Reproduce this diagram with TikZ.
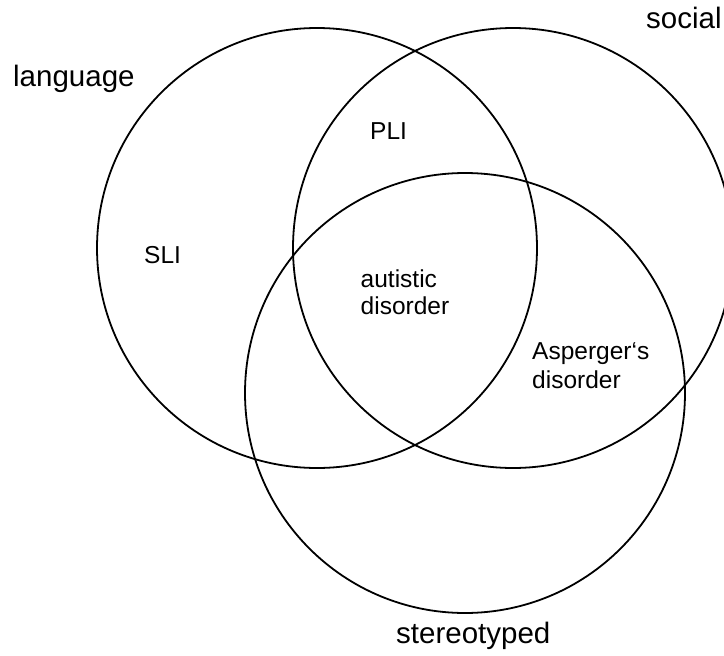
\documentclass[tikz,border=0pt]{standalone}
\usepackage{fontspec}
\setmainfont{Liberation Sans}
\begin{document}
\begin{tikzpicture}[x=1pt,y=-1pt,
  setcircle/.style={circle,draw=black,line width=1.8pt,minimum size=440pt,inner sep=0pt},
  outerlbl/.style={inner sep=0pt,anchor=base west,font=\fontsize{29.5}{34}\selectfont},
  innerlbl/.style={inner sep=0pt,anchor=base west,font=\fontsize{24.5}{28}\selectfont}]
\useasboundingbox[fill=white] (0,0) rectangle (724,656);
\node[setcircle] (lang) at (317,248) {};
\node[setcircle] (soc) at (513,248) {};
\node[setcircle] (ster) at (465,393) {};
\node[outerlbl] (langlbl) at (13,86.7) {language};
\node[outerlbl] (soclbl) at (646,28.3) {social};
\node[outerlbl] (sterlbl) at (396,643.3) {stereotyped};
\node[innerlbl] (sli) at (144,263.3) {SLI};
\node[innerlbl] (pli) at (370,139) {PLI};
\node[innerlbl] (aut1) at (360.5,287.3) {autistic};
\node[innerlbl] (aut2) at (360.5,314) {disorder};
\node[innerlbl] (asp1) at (532,359.3) {Asperger‘s};
\node[innerlbl] (asp2) at (532,388.3) {disorder};
\end{tikzpicture}
\end{document}
